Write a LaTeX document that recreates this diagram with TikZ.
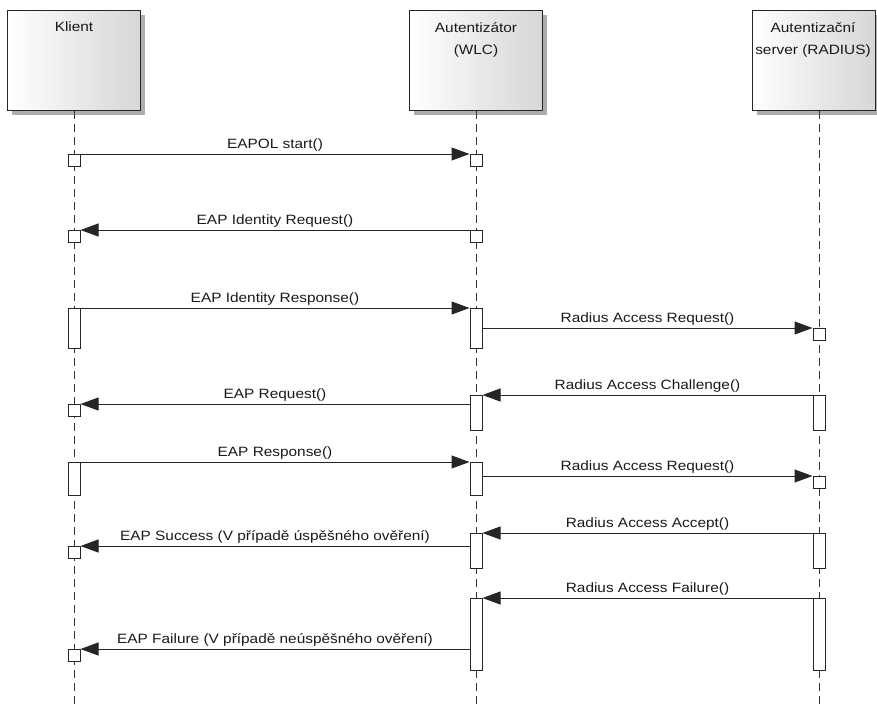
\documentclass[tikz,border=0pt]{standalone}
\usepackage{fontspec}
\setmainfont{Liberation Sans}[FakeStretch=1.14]
\usetikzlibrary{arrows.meta,shadows,positioning}

\begin{document}
\begin{tikzpicture}[x=1pt,y=-1pt,
  font=\fontsize{13.5}{15}\selectfont,
  head/.style={draw=black!85, line width=1pt, left color=white, right color=black!16,
    shading angle=90, minimum height=100pt, inner sep=0pt, anchor=north,
    drop shadow={shadow xshift=4.5pt, shadow yshift=-4.5pt, fill=black!40, opacity=0.8}},
  headtext/.style={align=center, anchor=north, inner sep=0pt, text=black!90,
    font=\fontsize{13.5}{22}\selectfont},
  life/.style={draw=black!80, line width=0.9pt, dash pattern=on 8pt off 5pt},
  act/.style={draw=black!85, fill=white, line width=1pt, minimum width=12pt,
    inner sep=0pt, anchor=north},
  msg/.style={draw=black!85, line width=1pt, -{Triangle[length=18pt,width=13pt]}},
  lbl/.style={midway, above=1pt, inner sep=1pt, text=black!90}
]
\useasboundingbox (0,0) rectangle (877,705);

% lifeline heads
\node[head, minimum width=133pt] (k) at (74,10) {};
\node[head, minimum width=133pt] (w) at (476,10) {};
\node[head, minimum width=123pt] (r) at (813.5,10) {};
\node[headtext] (kt) at (74,22) {Klient};
\node[headtext] (wt) at (476,22) {Autentizátor\\(WLC)};
\node[headtext] (rt) at (813,22) {Autentizační\\server (RADIUS)};

% lifelines
\coordinate (kend) at (74,705);
\coordinate (wend) at (476,705);
\coordinate (rend) at (819,705);
\draw[life] (k.south) -- (kend);
\draw[life] (w.south) -- (wend);
\draw[life] (r.south -| rend) -- (rend);

% activations
\node[act, minimum height=12pt] (k1) at (74,154) {};
\node[act, minimum height=12pt] (w1) at (476,154) {};
\node[act, minimum height=12pt] (k2) at (74,230) {};
\node[act, minimum height=12pt] (w2) at (476,230) {};
\node[act, minimum height=40pt] (k3) at (74,308) {};
\node[act, minimum height=40pt] (w3) at (476,308) {};
\node[act, minimum height=12pt] (r4) at (819,328) {};
\node[act, minimum height=35pt] (r5) at (819,395) {};
\node[act, minimum height=35pt] (w5) at (476,395) {};
\node[act, minimum height=12pt] (k6) at (74,404) {};
\node[act, minimum height=33pt] (k7) at (74,462) {};
\node[act, minimum height=33pt] (w7) at (476,462) {};
\node[act, minimum height=12pt] (r8) at (819,476) {};
\node[act, minimum height=35pt] (r9) at (819,533) {};
\node[act, minimum height=35pt] (w9) at (476,533) {};
\node[act, minimum height=12pt] (k10) at (74,546) {};
\node[act, minimum height=72pt] (r11) at (819,598) {};
\node[act, minimum height=72pt] (w11) at (476,598) {};
\node[act, minimum height=12pt] (k12) at (74,649) {};

% messages
\draw[msg] (k1.north east) -- (w1.north west) node[lbl] {EAPOL start()};
\draw[msg] (w2.north west) -- (k2.north east) node[lbl] {EAP Identity Request()};
\draw[msg] (k3.north east) -- (w3.north west) node[lbl] {EAP Identity Response()};
\draw[msg] (w3.east |- r4.north) -- (r4.north west) node[lbl] {Radius Access Request()};
\draw[msg] (r5.north west) -- (w5.north east) node[lbl] {Radius Access Challenge()};
\draw[msg] (w5.west |- k6.north) -- (k6.north east) node[lbl] {EAP Request()};
\draw[msg] (k7.north east) -- (w7.north west) node[lbl] {EAP Response()};
\draw[msg] (w7.east |- r8.north) -- (r8.north west) node[lbl] {Radius Access Request()};
\draw[msg] (r9.north west) -- (w9.north east) node[lbl] {Radius Access Accept()};
\draw[msg] (w9.west |- k10.north) -- (k10.north east) node[lbl] {EAP Success (V případě úspěšného ověření)};
\draw[msg] (r11.north west) -- (w11.north east) node[lbl] {Radius Access Failure()};
\draw[msg] (w11.west |- k12.north) -- (k12.north east) node[lbl] {EAP Failure (V případě neúspěšného ověření)};
\end{tikzpicture}
\end{document}
